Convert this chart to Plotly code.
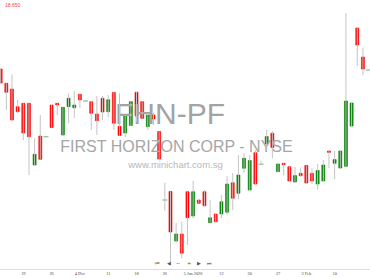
import plotly.graph_objects as go

# ---- data ----
dates = [
    "2025-11-13", "2025-11-14", "2025-11-17", "2025-11-18", "2025-11-19", "2025-11-20", "2025-11-21",
    "2025-11-24", "2025-11-25", "2025-11-26", "2025-11-28", "2025-12-01", "2025-12-02", "2025-12-03",
    "2025-12-04", "2025-12-05", "2025-12-08", "2025-12-09", "2025-12-10", "2025-12-11", "2025-12-12",
    "2025-12-15", "2025-12-16", "2025-12-17", "2025-12-18", "2025-12-19", "2025-12-22", "2025-12-23",
    "2025-12-24", "2025-12-26", "2025-12-29", "2025-12-30", "2025-12-31", "2026-01-02", "2026-01-05",
    "2026-01-06", "2026-01-07", "2026-01-08", "2026-01-09", "2026-01-12", "2026-01-13", "2026-01-14",
    "2026-01-15", "2026-01-16", "2026-01-20", "2026-01-21", "2026-01-22", "2026-01-23", "2026-01-26",
    "2026-01-27", "2026-01-28", "2026-01-29", "2026-01-30", "2026-02-02", "2026-02-03", "2026-02-04",
    "2026-02-05", "2026-02-06", "2026-02-09", "2026-02-10", "2026-02-11", "2026-02-12", "2026-02-13",
    "2026-02-17", "2026-02-18", "2026-02-19",
]
open_ = [18.660, 18.517, 18.460, 18.283, 18.317, 18.317, 17.700, 17.990, 17.983, 18.300, 18.317,
         18.000, 18.283, 18.273, 18.407, 18.340, 18.333, 18.210, 18.367, 18.233, 18.425, 18.087,
         18.020, 18.095, 18.428, 18.333, 18.083, 18.200, 18.035, 17.350, 17.435, 16.940, 17.010,
         17.433, 17.190, 17.350, 17.433, 17.123, 17.210, 17.210, 17.227, 17.523, 17.417, 17.667,
         17.450, 17.823, 17.707, 17.910, 18.017, 17.633, 17.717, 17.683, 17.530, 17.617, 17.695,
         17.617, 17.510, 17.540, 17.840, 17.717, 17.670, 17.687, 18.090, 19.070, 18.780, 18.650]
high = [18.660, 18.517, 18.607, 18.350, 18.317, 18.317, 17.967, 18.200, 17.990, 18.300, 18.317,
        18.277, 18.417, 18.440, 18.407, 18.345, 18.333, 18.390, 18.390, 18.400, 18.425, 18.417,
        18.200, 18.333, 18.430, 18.333, 18.220, 18.220, 18.035, 17.523, 17.435, 17.120, 17.133,
        17.433, 17.543, 17.350, 17.450, 17.350, 17.220, 17.400, 17.590, 17.620, 17.800, 17.820,
        17.800, 17.850, 17.743, 18.050, 18.040, 17.720, 17.717, 17.683, 17.680, 17.677, 17.695,
        17.667, 17.710, 17.750, 17.840, 17.840, 17.843, 19.217, 18.320, 19.070, 18.870, 18.650]
low = [18.520, 18.250, 18.150, 18.220, 17.950, 17.600, 17.700, 17.757, 17.977, 18.075, 18.200,
       18.000, 18.117, 18.170, 18.270, 18.335, 18.050, 18.000, 18.150, 18.180, 18.050, 17.990,
       17.980, 18.090, 18.130, 18.167, 18.050, 18.100, 17.760, 17.243, 16.730, 16.920, 16.767,
       16.900, 17.170, 17.317, 17.283, 17.123, 17.120, 17.170, 17.200, 17.250, 17.360, 17.620,
       17.440, 17.510, 17.707, 17.880, 17.767, 17.630, 17.600, 17.530, 17.525, 17.583, 17.515,
       17.510, 17.455, 17.540, 17.667, 17.560, 17.670, 17.687, 18.090, 18.690, 18.600, 18.650]
close = [18.520, 18.427, 18.150, 18.233, 18.020, 17.983, 17.807, 17.757, 17.983, 18.075, 18.300,
         18.277, 18.367, 18.300, 18.350, 18.340, 18.217, 18.143, 18.230, 18.353, 18.117, 17.995,
         18.195, 18.333, 18.190, 18.167, 18.200, 18.160, 17.760, 17.350, 17.030, 17.010, 16.817,
         17.173, 17.433, 17.317, 17.293, 17.173, 17.133, 17.333, 17.510, 17.367, 17.600, 17.767,
         17.745, 17.510, 17.707, 17.985, 17.875, 17.710, 17.705, 17.540, 17.595, 17.593, 17.520,
         17.540, 17.645, 17.700, 17.827, 17.755, 17.840, 18.340, 18.320, 18.900, 18.660, 18.650]

tick_dates = ["2025-11-19", "2025-11-26", "2025-12-04", "2025-12-11", "2025-12-18", "2025-12-26",
              "2026-01-05", "2026-01-12", "2026-01-20", "2026-01-27", "2026-02-03", "2026-02-10",
              "2026-02-19"]
tick_text = ["19", "26", "4 Dec", "11", "18", "26", "5 Jan 2026", "12", "20", "27", "3 Feb", "10", "19"]

symbol = "FHN-PF"
company = "FIRST HORIZON CORP - NYSE"
site = "www.minichart.com.sg"
last_price_label = "18.650"

# ---- styling ----
RED = "#ff0000"
GREEN = "#008000"
DOJI = "#9ccc9c"
WICK = "#c4c4c4"

idx = list(range(len(dates)))
W, H = 370, 278
MB = 9
PH = H - MB
XR = [-0.117, 65.25]
YR = [16.66, 19.35]


def px_to_x(px):
    return XR[0] + px / W * (XR[1] - XR[0])


def py_to_y(py):
    return YR[1] - py / PH * (YR[1] - YR[0])


fig = go.Figure()

# watermark (drawn first so candles sit on top)
fig.add_trace(go.Scatter(
    x=[px_to_x(170), px_to_x(176.5), px_to_x(175.5)],
    y=[py_to_y(116), py_to_y(147.5), py_to_y(165.5)],
    mode="text",
    text=[symbol, company, site],
    textposition="middle center",
    textfont=dict(family="Liberation Sans", size=[30, 16, 9.5],
                  color=["#a3a3a3", "#a6a6a6", "#b8b8b8"]),
    hoverinfo="skip", showlegend=False,
))

# wicks
wx, wy = [], []
for i in idx:
    wx += [i, i, None]
    wy += [low[i], high[i], None]
fig.add_trace(go.Scatter(x=wx, y=wy, mode="lines",
                         line=dict(color=WICK, width=1),
                         hoverinfo="skip", showlegend=False))

# bodies
body_i = [i for i in idx if abs(close[i] - open_[i]) > 1e-9]
doji_i = [i for i in idx if abs(close[i] - open_[i]) <= 1e-9]
fig.add_trace(go.Candlestick(
    x=body_i,
    open=[open_[i] for i in body_i],
    close=[close[i] for i in body_i],
    high=[max(open_[i], close[i]) for i in body_i],
    low=[min(open_[i], close[i]) for i in body_i],
    increasing=dict(line=dict(color=GREEN, width=0.6), fillcolor=GREEN),
    decreasing=dict(line=dict(color=RED, width=0.6), fillcolor=RED),
    whiskerwidth=0, showlegend=False,
))
fig.add_trace(go.Scatter(
    x=doji_i, y=[close[i] for i in doji_i], mode="markers",
    marker=dict(symbol="line-ew", size=3.6, line=dict(color=DOJI, width=1.4)),
    hoverinfo="skip", showlegend=False,
))

annotations = [dict(
    x=3 / W, y=1 - 5 / PH, xref="paper", yref="paper", text=last_price_label,
    showarrow=False, xanchor="left", yanchor="middle",
    font=dict(family="Liberation Sans", size=5, color="#ff4444"),
)]
for px, t in zip([157, 169, 178, 189, 199, 209], ["⏮", "◀", "−", "+", "▶", "⏭"]):
    annotations.append(dict(
        x=px / W, y=1 - 263.3 / PH, xref="paper", yref="paper", text=t,
        showarrow=False, xanchor="center", yanchor="middle",
        font=dict(family="DejaVu Sans", size=5, color="#555555"),
    ))

fig.update_layout(
    width=W, height=H,
    margin=dict(l=0, r=0, t=0, b=MB),
    paper_bgcolor="white", plot_bgcolor="white",
    boxgap=0.24,
    showlegend=False,
    annotations=annotations,
    xaxis=dict(
        range=XR, showgrid=False, zeroline=False,
        showline=True, linecolor="#dcdcdc", linewidth=1,
        ticks="", tickvals=[dates.index(d) for d in tick_dates], ticktext=tick_text,
        tickfont=dict(family="Liberation Serif", size=4.3, color="#444444"),
        rangeslider=dict(visible=False), fixedrange=True,
    ),
    yaxis=dict(range=YR, visible=False, fixedrange=True),
)

fig.write_html("out.html")
